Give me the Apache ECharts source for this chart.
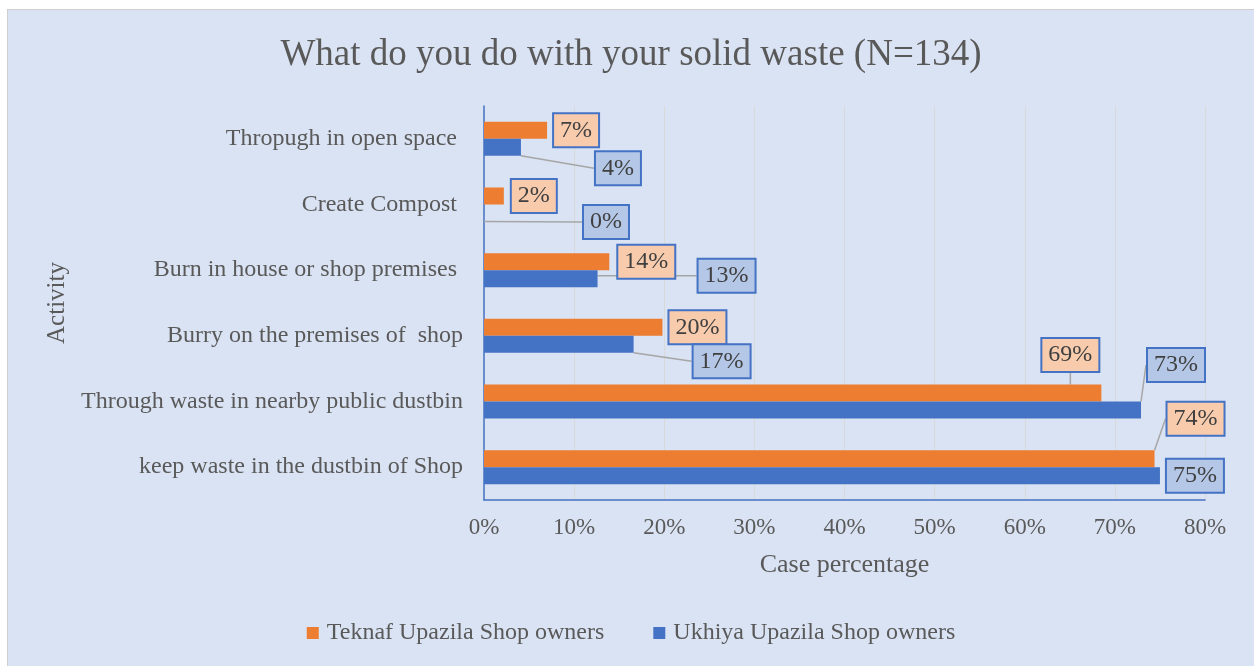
<!DOCTYPE html>
<html>
<head>
<meta charset="utf-8">
<title>solid waste</title>
<style>
    html, body {
        margin: 0;
        padding: 0;
        background: #ffffff;
    }
    #chart {
        position: absolute;
        left: 7px;
        top: 9px;
        width: 1246px;
        height: 656px;
        background: #dae3f3;
        border: 1px solid #d0cece;
    }
</style>
</head>
<body>
<div id="chart"></div>
<script src="https://cdn.jsdelivr.net/npm/echarts@6/dist/echarts.min.js"></script>
<script>
// categories top to bottom
var categories = [
    'Thropugh in open space ',
    'Create Compost ',
    'Burn in house or shop premises ',
    'Burry on the premises of  shop',
    'Through waste in nearby public dustbin',
    'keep waste in the dustbin of Shop'
];
var teknaf = [7.0, 2.2, 13.9, 19.8, 68.5, 74.4];
var ukhiya = [4.1, 0, 12.6, 16.6, 72.9, 75.0];
var seriesNames = ['Teknaf Upazila Shop owners', 'Ukhiya Upazila Shop owners'];

// label offsets (dx, dy) from default right position, like the excel callouts
var teknafShift = [[2, 0], [3, 0], [4, 0], [2, 0], [-64, -38], [8, -40]];
var ukhiyaShift = [[70, 21], [95, 9], [96, -3], [55, 17], [2, -45], [2, 0]];

var font = 'Liberation Serif';
var textColor = '#595959';

function makeData(values, shifts) {
    return values.map(function (v, i) {
        var far = Math.abs(shifts[i][1]) > 4 || shifts[i][0] > 20;
        return { value: v, labelLine: { show: far } };
    });
}

function makeSeries(idx, values, shifts, color, boxColor) {
    return {
        name: seriesNames[idx],
        type: 'bar',
        barWidth: 17,
        barGap: '0%',
        itemStyle: { color: color },
        data: makeData(values, shifts),
        label: {
            show: true,
            position: 'right',
            distance: 5,
            fontFamily: font,
            fontSize: 24,
            color: '#404040',
            backgroundColor: boxColor,
            borderColor: '#4472c4',
            borderWidth: 2,
            padding: [5, 6, 3, 6],
            formatter: function (p) { return Math.round(p.value) + '%'; }
        },
        labelLine: {
            show: true,
            lineStyle: { color: '#a6a6a6', width: 1.5 }
        },
        labelLayout: function (p) {
            var d = shifts[p.dataIndex];
            return { dx: d[0], dy: d[1] };
        }
    };
}

var chart = echarts.init(document.getElementById('chart'));
chart.setOption({
    animation: false,
    textStyle: { fontFamily: font },
    title: {
        text: 'What do you do with your solid waste (N=134)',
        left: 'center',
        top: 22,
        textStyle: { fontFamily: font, fontSize: 37, fontWeight: 'normal', color: textColor }
    },
    legend: {
        bottom: 16,
        left: 'center',
        itemWidth: 12,
        itemHeight: 12,
        itemGap: 49,
        icon: 'rect',
        textStyle: { fontFamily: font, fontSize: 24, color: textColor, padding: [0, 0, 0, 3] },
        data: seriesNames
    },
    grid: { left: 476, right: 49, top: 96, bottom: 166 },
    xAxis: {
        type: 'value',
        min: 0,
        max: 80,
        interval: 10,
        name: 'Case percentage',
        nameLocation: 'middle',
        nameGap: 52,
        nameTextStyle: { fontFamily: font, fontSize: 26, color: textColor },
        axisLine: { show: true, lineStyle: { color: '#4472c4', width: 1.5 } },
        axisTick: { show: false },
        axisLabel: { formatter: '{value}%', fontFamily: font, fontSize: 23, color: textColor, margin: 16 },
        splitLine: { lineStyle: { color: '#d9d9d9', width: 1 } }
    },
    yAxis: {
        type: 'category',
        inverse: true,
        data: categories,
        name: 'Activity',
        nameLocation: 'middle',
        nameRotate: 90,
        nameGap: 406,
        nameTextStyle: { fontFamily: font, fontSize: 25, color: textColor },
        axisLine: { show: true, lineStyle: { color: '#4472c4', width: 1.5 } },
        axisTick: { show: false },
        axisLabel: { fontFamily: font, fontSize: 24, color: textColor, margin: 21 },
        splitLine: { show: false }
    },
    series: [
        makeSeries(0, teknaf, teknafShift, '#ed7d31', '#f8cbad'),
        makeSeries(1, ukhiya, ukhiyaShift, '#4472c4', '#b4c7e7')
    ]
});
</script>
</body>
</html>
